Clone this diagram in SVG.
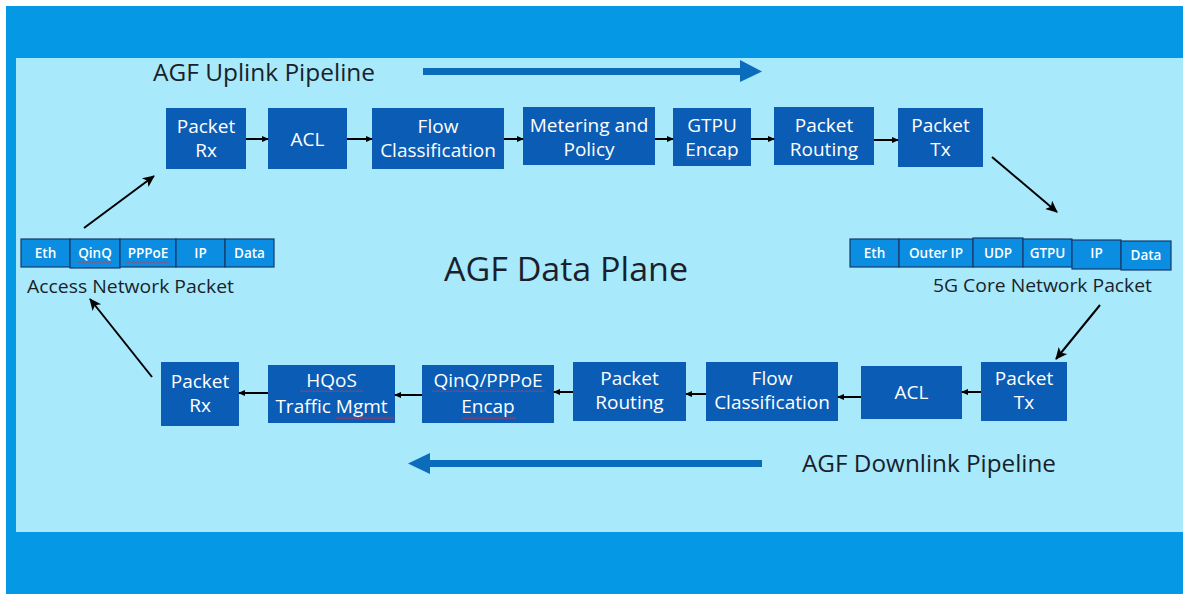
<svg xmlns="http://www.w3.org/2000/svg" width="1183" height="594" viewBox="0 0 1183 594">
<defs>
<style>
.bg{fill:#0598e4}
.panel{fill:#a8e9fb}
.node rect{fill:#0b5cb4}
.node text{fill:#ffffff;font-family:"Open Sans","Noto Sans",sans-serif;font-size:19px;text-anchor:middle}
.cell rect{fill:#0b8de2;stroke:#143a6a;stroke-width:1.2}
.cell text{fill:#ffffff;font-family:"Open Sans","Noto Sans",sans-serif;font-size:13.5px;font-weight:600;text-anchor:middle}
.title{fill:#1a1f2b;font-family:"Open Sans","Noto Sans",sans-serif}
.conn line{stroke:#000;stroke-width:2}
.big{fill:#0b6cbb}
</style>
<marker id="ah" markerWidth="8" markerHeight="8" refX="6" refY="4" orient="auto" markerUnits="userSpaceOnUse">
<path d="M0,1 L7,4 L0,7 Z" fill="#000"/>
</marker>
<marker id="ahd" markerWidth="14" markerHeight="14" refX="11" refY="7" orient="auto" markerUnits="userSpaceOnUse">
<path d="M0,1.5 L12,7 L0,12.5 L3,7 Z" fill="#000"/>
</marker>
<pattern id="wavy" width="4" height="3" patternUnits="userSpaceOnUse">
<path d="M0,2.5 L2,0.5 L4,2.5" fill="none" stroke="#d4344a" stroke-width="0.9"/>
</pattern>
</defs>

<rect x="0" y="0" width="1183" height="594" fill="#ffffff"/>
<rect class="bg" x="6" y="6" width="1177" height="588"/>
<rect class="panel" x="16" y="58" width="1167" height="474"/>

<!-- titles -->
<text class="title" x="153" y="81" font-size="24" textLength="222" lengthAdjust="spacingAndGlyphs">AGF Uplink Pipeline</text>
<text class="title" x="444" y="281" font-size="32" textLength="244" lengthAdjust="spacingAndGlyphs">AGF Data Plane</text>
<text class="title" x="802" y="472" font-size="24" textLength="254" lengthAdjust="spacingAndGlyphs">AGF Downlink Pipeline</text>
<text class="title" x="27" y="293" font-size="19" textLength="207" lengthAdjust="spacingAndGlyphs">Access Network Packet</text>
<text class="title" x="933" y="292" font-size="19" textLength="219" lengthAdjust="spacingAndGlyphs">5G Core Network Packet</text>

<!-- big direction arrows -->
<g id="uplink-arrow">
<rect class="big" x="423" y="68" width="318" height="7"/>
<path class="big" d="M740,60 L762,71.5 L740,82 Z"/>
</g>
<g id="downlink-arrow">
<rect class="big" x="429" y="460" width="333" height="7"/>
<path class="big" d="M430,453 L408,463.5 L430,474 Z"/>
</g>

<!-- uplink nodes -->
<g id="ul-rx" class="node"><rect x="166" y="108" width="80" height="61"/><text x="206" y="133">Packet</text><text x="206" y="157">Rx</text></g>
<g id="ul-acl" class="node"><rect x="268" y="108" width="79" height="61"/><text x="307.5" y="146">ACL</text></g>
<g id="ul-flow" class="node"><rect x="372" y="108" width="132" height="61"/><text x="438" y="133">Flow</text><text x="438" y="157">Classification</text></g>
<g id="ul-meter" class="node"><rect x="523" y="107" width="132" height="58"/><text x="589" y="132">Metering and</text><text x="589" y="156">Policy</text></g>
<g id="ul-gtpu" class="node"><rect x="673" y="108" width="78" height="58"/><text x="712" y="132">GTPU</text><text x="712" y="156">Encap</text></g>
<g id="ul-route" class="node"><rect x="774" y="107" width="100" height="58"/><text x="824" y="132">Packet</text><text x="824" y="156">Routing</text></g>
<g id="ul-tx" class="node"><rect x="898" y="108" width="85" height="59"/><text x="940.5" y="132">Packet</text><text x="940.5" y="156">Tx</text></g>

<!-- downlink nodes -->
<g id="dl-rx" class="node"><rect x="161" y="362" width="78" height="64"/><text x="200" y="388">Packet</text><text x="200" y="412">Rx</text></g>
<g id="dl-hqos" class="node"><rect x="268" y="365" width="127" height="58"/><text x="331.5" y="387">HQoS</text><text x="331.5" y="413">Traffic Mgmt</text></g>
<g id="dl-encap" class="node"><rect x="422" y="365" width="132" height="58"/><text x="488" y="387">QinQ/PPPoE</text><text x="488" y="413">Encap</text></g>
<g id="dl-route" class="node"><rect x="573" y="362" width="113" height="59"/><text x="629.5" y="385">Packet</text><text x="629.5" y="409">Routing</text></g>
<g id="dl-flow" class="node"><rect x="706" y="362" width="132" height="59"/><text x="772" y="385">Flow</text><text x="772" y="409">Classification</text></g>
<g id="dl-acl" class="node"><rect x="861" y="366" width="101" height="53"/><text x="911.5" y="399">ACL</text></g>
<g id="dl-tx" class="node"><rect x="981" y="362" width="86" height="59"/><text x="1024" y="385">Packet</text><text x="1024" y="409">Tx</text></g>

<!-- packets -->
<g id="access-packet" class="cell">
<rect x="21" y="239" width="49" height="28"/><text x="45.5" y="258">Eth</text>
<rect x="70" y="239" width="50" height="29"/><text x="95" y="258">QinQ</text>
<rect x="120" y="239" width="56" height="28"/><text x="148" y="258">PPPoE</text>
<rect x="176" y="239" width="49" height="28"/><text x="200.5" y="258">IP</text>
<rect x="225" y="239" width="49" height="28"/><text x="249.5" y="258">Data</text>
</g>
<g id="core-packet" class="cell">
<rect x="850" y="239" width="49" height="28"/><text x="874.5" y="258">Eth</text>
<rect x="899" y="239" width="74" height="28"/><text x="936" y="258">Outer IP</text>
<rect x="973" y="238" width="50" height="29"/><text x="998" y="258">UDP</text>
<rect x="1023" y="239" width="49" height="28"/><text x="1047.5" y="258">GTPU</text>
<rect x="1072" y="240" width="49" height="29"/><text x="1096.5" y="258">IP</text>
<rect x="1121" y="241" width="50" height="29"/><text x="1146" y="260">Data</text>
</g>

<!-- spell-check underlines -->
<g id="squiggles">
<rect x="686" y="157" width="51" height="3" fill="url(#wavy)"/>
<rect x="77" y="261" width="35" height="3" fill="url(#wavy)"/>
<rect x="126" y="261" width="43" height="3" fill="url(#wavy)"/>
<rect x="300" y="389" width="63" height="3" fill="url(#wavy)"/>
<rect x="336" y="416" width="58" height="3" fill="url(#wavy)"/>
<rect x="432" y="389" width="113" height="3" fill="url(#wavy)"/>
<rect x="462" y="416" width="54" height="3" fill="url(#wavy)"/>
</g>

<!-- connectors -->
<g id="connectors" class="conn">
<line x1="246" y1="139" x2="268" y2="139" marker-end="url(#ah)"/>
<line x1="347" y1="139" x2="372" y2="139" marker-end="url(#ah)"/>
<line x1="504" y1="139" x2="523" y2="139" marker-end="url(#ah)"/>
<line x1="655" y1="139" x2="673" y2="139" marker-end="url(#ah)"/>
<line x1="751" y1="139" x2="774" y2="139" marker-end="url(#ah)"/>
<line x1="874" y1="140" x2="898" y2="140" marker-end="url(#ah)"/>
<line x1="992" y1="157" x2="1057" y2="212" marker-end="url(#ahd)"/>
<line x1="1100" y1="305" x2="1056" y2="359" marker-end="url(#ahd)"/>
<line x1="981" y1="392" x2="962" y2="392" marker-end="url(#ah)"/>
<line x1="861" y1="397" x2="838" y2="397" marker-end="url(#ah)"/>
<line x1="706" y1="394" x2="686" y2="394" marker-end="url(#ah)"/>
<line x1="573" y1="392" x2="554" y2="392" marker-end="url(#ah)"/>
<line x1="422" y1="395" x2="395" y2="395" marker-end="url(#ah)"/>
<line x1="268" y1="393" x2="239" y2="393" marker-end="url(#ah)"/>
<line x1="152" y1="377" x2="90" y2="299" marker-end="url(#ahd)"/>
<line x1="84" y1="228" x2="154" y2="176" marker-end="url(#ahd)"/>
</g>
</svg>
